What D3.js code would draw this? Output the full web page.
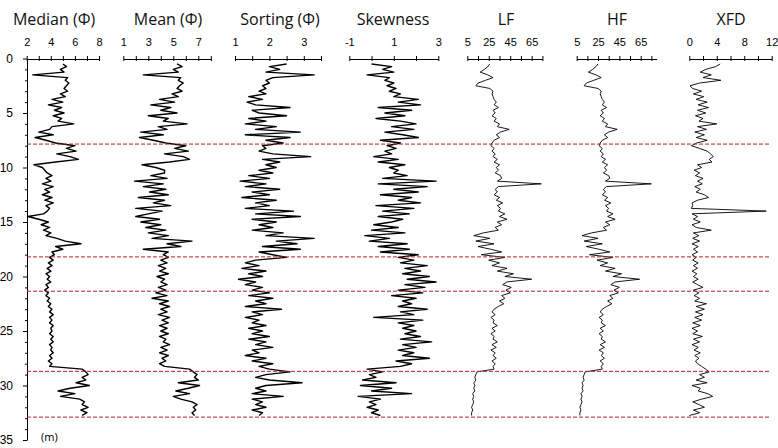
<!DOCTYPE html>
<html>
<head>
<meta charset="utf-8">
<script src="https://cdn.jsdelivr.net/npm/d3@7"></script>
<style>
body { margin: 0; background: #fff; }
</style>
</head>
<body>
<script>
var width = 778;
var height = 448;

// depth of each sample (m)
var depth = [
  0.5, 0.75, 1, 1.25, 1.5, 1.75, 2, 2.25, 2.5, 2.75,
  3, 3.25, 3.5, 3.75, 4, 4.25, 4.5, 4.75, 5, 5.25,
  5.5, 5.75, 6, 6.25, 6.5, 6.75, 7, 7.25, 7.5, 7.75,
  8, 8.25, 8.5, 8.75, 9, 9.25, 9.5, 9.75, 10, 10.25,
  10.5, 10.75, 11, 11.25, 11.5, 11.75, 12, 12.25, 12.5, 12.75,
  13, 13.25, 13.5, 13.75, 14, 14.25, 14.5, 14.75, 15, 15.25,
  15.5, 15.75, 16, 16.25, 16.5, 16.75, 17, 17.25, 17.5, 17.75,
  18, 18.25, 18.5, 18.75, 19, 19.25, 19.5, 19.75, 20, 20.25,
  20.5, 20.75, 21, 21.25, 21.5, 21.75, 22, 22.25, 22.5, 22.75,
  23, 23.25, 23.5, 23.75, 24, 24.25, 24.5, 24.75, 25, 25.25,
  25.5, 25.75, 26, 26.25, 26.5, 26.75, 27, 27.25, 27.5, 27.75,
  28, 28.25, 28.5, 28.75, 29, 29.25, 29.5, 29.75, 30, 30.25,
  30.5, 30.75, 31, 31.25, 31.5, 31.75, 32, 32.25, 32.5, 32.75
];

var median = [
  5.0, 5.3, 4.8, 5.1, 2.5, 5.4, 5.2, 5.5, 5.3, 5.1,
  5.4, 4.8, 5.2, 4.1, 5.0, 3.8, 4.9, 4.3, 5.1, 4.2,
  4.9, 4.6, 5.9, 4.1, 3.9, 3.0, 4.2, 2.7, 3.6, 4.4,
  6.0, 5.3, 6.1, 4.5, 5.6, 6.3, 4.4, 2.6, 3.3, 3.5,
  3.7, 4.1, 3.6, 4.0, 3.3, 4.2, 3.5, 3.9, 3.3, 4.1,
  3.5, 4.2, 3.6, 3.9, 3.7, 3.4, 2.1, 3.0, 3.8, 3.2,
  3.9, 3.4, 4.0, 3.6, 4.5, 5.2, 6.5, 4.4, 5.0, 4.1,
  4.3, 3.9, 4.2, 3.8, 4.1, 3.7, 4.0, 3.6, 3.9, 3.7,
  4.0, 3.6, 3.8, 3.5, 3.8, 3.6, 3.9, 3.7, 4.0, 3.8,
  4.1, 3.9, 4.2, 3.9, 4.1, 3.9, 4.2, 4.0, 4.1, 3.9,
  4.2, 4.0, 4.2, 3.9, 4.1, 4.0, 4.2, 3.9, 4.1, 3.8,
  4.1, 3.9, 6.6, 6.9, 7.1, 6.6, 6.9, 6.1, 7.2, 5.6,
  4.6, 6.0, 4.8, 6.4, 6.8, 6.6, 7.1, 6.5, 7.0, 6.6
];

var mean = [
  5.3, 5.7, 5.0, 5.4, 2.6, 5.6, 5.4, 5.8, 5.5, 5.3,
  5.7, 4.9, 5.4, 3.9, 5.1, 3.2, 4.8, 4.0, 5.3, 3.0,
  4.6, 4.2, 6.1, 3.8, 4.5, 2.4, 4.2, 2.3, 3.4, 4.4,
  6.0, 5.1, 6.2, 4.3, 5.8, 6.3, 4.7, 2.5, 3.6, 4.3,
  4.3, 3.2, 4.5, 1.9, 4.2, 2.6, 4.4, 3.1, 4.6, 2.2,
  4.3, 3.4, 4.8, 2.0, 4.1, 3.0, 2.0, 3.9, 2.4, 4.0,
  2.8, 4.4, 3.0, 4.6, 3.3, 6.5, 4.5, 5.6, 2.6, 4.6,
  4.2, 4.6, 4.0, 4.5, 3.8, 4.4, 3.9, 4.6, 3.7, 4.3,
  4.0, 4.5, 3.8, 4.4, 3.6, 4.5, 3.3, 4.6, 3.9, 4.7,
  4.0, 4.5, 3.8, 4.7, 4.1, 4.6, 3.9, 4.5, 4.0, 4.6,
  3.9, 4.4, 4.2, 4.7, 4.0, 4.5, 3.9, 4.6, 4.1, 4.4,
  3.9, 4.3, 6.3, 6.6, 6.9, 6.7, 7.0, 5.4, 7.1, 6.2,
  5.2, 6.3, 5.0, 5.6, 6.5, 6.9, 6.6, 6.8, 6.5, 6.7
];

var sorting = [
  2.5, 2.0, 2.3, 1.9, 3.3, 2.1, 1.9, 2.0, 1.8, 1.9,
  1.7, 1.9, 1.4, 1.8, 1.35, 1.6, 2.6, 1.5, 1.7, 2.5,
  1.4, 1.9, 1.3, 2.2, 1.6, 2.9, 1.3, 2.6, 1.9, 2.4,
  1.8, 1.9, 1.7, 2.1, 3.2, 1.8, 2.3, 1.9, 2.2, 1.7,
  2.1, 1.4, 2.0, 1.15, 1.9, 1.3, 2.3, 1.5, 2.0, 1.2,
  2.2, 1.6, 2.0, 1.3, 2.7, 1.6, 2.9, 1.5, 2.2, 1.7,
  2.1, 1.5, 2.4, 1.9, 3.3, 2.2, 2.8, 1.8, 2.9, 1.7,
  2.1, 2.5, 1.6, 1.3, 1.7, 1.2, 1.9, 1.4, 1.8, 1.1,
  1.6, 1.3, 1.8, 1.5, 2.0, 1.4, 2.1, 1.6, 1.9, 1.3,
  2.35, 1.5, 1.8, 1.3, 1.7, 1.5, 1.9, 1.4, 1.8, 1.5,
  2.0, 1.4, 1.9, 1.6, 2.1, 1.5, 1.7, 1.3, 1.9, 1.5,
  2.1, 1.7, 2.0, 2.6, 1.9, 1.6, 2.0, 2.95, 1.9, 1.6,
  1.9, 1.5, 2.4, 1.5, 1.8, 1.6, 1.9, 1.5, 1.8, 1.7
];

var skewness = [
  0.0, 0.9, 0.5, 1.0, -0.2, 0.8, 0.6, 1.0, 0.7, 1.1,
  0.8, 1.3, 1.0, 2.1, 1.2, 2.2, 0.3, 1.8, 0.6, 1.5,
  0.2, 1.3, 2.0, 0.9, 1.9, 0.6, 1.4, 2.1, 0.4, 1.3,
  0.7, 1.1, 0.6, 0.9, 0.1, 1.2, 0.3, 1.5, 0.8, 1.2,
  1.0, 1.6, 0.5, 2.9, 0.3, 2.5, 1.0, 2.1, 0.4, 1.8,
  1.2, 2.2, 0.2, 1.9, 0.5, 1.7, 0.3, 1.4, 0.9, 0.1,
  1.2, 0.0, 1.5, -0.3, 0.8, -0.1, 1.6, 0.3, 1.7, 0.4,
  2.1, 1.2, 1.9, 1.3, 2.5, 1.5, 2.2, 1.4, 2.6, 1.6,
  2.9, 1.5, 2.4, 1.2, 2.3, 0.9, 2.0, 1.4, 1.8, 1.2,
  2.5, 1.3, 1.9, 0.1, 2.3, 1.2, 1.9, 1.4, 2.0, 1.5,
  2.2, 1.3, 2.7, 1.4, 2.0, 1.2, 1.9, 1.4, 2.6, 1.1,
  1.8, 1.3, -0.2, 0.5, -0.1, 0.2, -0.4, 1.1, -0.5, 0.9,
  0.0, 1.8, -0.6, 0.4, -0.1, 0.2, -0.2, 0.3, 0.0, 0.4
];

var lf = [
  26, 24, 21, 17, 24, 29, 22, 15, 13, 26,
  29, 28, 29, 30, 32, 30, 34, 29, 31, 28,
  32, 30, 35, 33, 44, 36, 32, 35, 30, 28,
  27, 30, 28, 31, 29, 33, 30, 35, 32, 34,
  31, 36, 37, 33, 74, 34, 31, 33, 30, 35,
  32, 38, 33, 36, 34, 40, 35, 42, 33, 37,
  31, 34, 20, 11, 26, 13, 30, 15, 27, 37,
  18, 40, 25, 35, 28, 42, 33, 48, 40, 65,
  42, 38, 46, 41, 45, 37, 40, 35, 39, 34,
  30, 28, 31, 27, 30, 29, 33, 28, 31, 27,
  30, 29, 33, 28, 32, 27, 31, 29, 32, 28,
  31, 29, 30, 14, 13, 12, 13, 11, 12, 11,
  12, 10, 11, 10, 11, 10, 9, 10, 9, 9
];

var hf = [
  25, 23, 20, 16, 23, 28, 21, 14, 12, 25,
  28, 27, 28, 29, 31, 29, 33, 28, 30, 27,
  31, 29, 34, 32, 43, 35, 31, 34, 29, 27,
  26, 29, 27, 30, 28, 32, 29, 34, 31, 33,
  30, 35, 36, 32, 75, 33, 30, 32, 29, 34,
  31, 37, 32, 35, 33, 39, 34, 41, 32, 36,
  30, 33, 19, 10, 25, 12, 29, 14, 26, 36,
  17, 39, 24, 34, 27, 41, 32, 47, 39, 64,
  41, 37, 45, 40, 44, 36, 39, 34, 38, 33,
  29, 27, 30, 26, 29, 28, 32, 27, 30, 26,
  29, 28, 32, 27, 31, 26, 30, 28, 31, 27,
  30, 28, 29, 13, 12, 11, 12, 10, 11, 10,
  11, 9, 10, 9, 10, 9, 8, 9, 8, 8
];

var xfd = [
  4.5, 3.8, 2.4, 1.6, 3.2, 2.0, 4.6, 1.5, 0.1, 0.5,
  1.8, 0.6, 2.1, 1.0, 2.6, 1.3, 2.8, 1.2, 2.4, 0.9,
  2.0, 1.4, 4.0, 1.2, 2.5, 0.8, 2.2, 1.0, 2.6, 1.1,
  0.3, 1.5, 2.6, 3.1, 3.5, 2.9, 3.3, 1.2, 1.8, 0.7,
  1.5, 0.9, 2.0, 1.2, 1.9, 0.8, 1.6, 1.0, 2.2, 2.8,
  1.2, 0.4, 0.5, 0.3, 11.2, 0.4, 1.2, 0.6, 1.6, 0.4,
  1.0, 3.2, 0.6, 1.4, 0.5, 1.5, 0.4, 1.3, 0.6, 1.2,
  0.4, 1.0, 0.5, 1.3, 0.6, 1.2, 0.4, 1.1, 0.6, 1.3,
  0.5, 1.2, 2.0, 0.6, 1.4, 0.7, 1.5, 0.8, 2.5, 1.0,
  2.2, 0.9, 2.0, 0.8, 1.8, 0.5, 1.6, 0.4, 1.2, 0.5,
  1.9, 0.6, 1.5, 0.4, 1.3, 0.7, 1.6, 0.8, 1.4, 0.9,
  1.2, 1.8, 2.4, 2.9, 1.5, 2.2, 1.0, 2.6, 0.4, 1.6,
  1.3, 2.7, 3.4, 1.8, 0.5, 1.4, 2.2, 0.6, 1.5, 0.0
];

// unit boundaries (m)
var boundaries = [7.85, 18.2, 21.35, 28.7, 32.9];

// axis ticks and labels
var depthTicks = [0, 1, 2, 3, 4, 5, 6, 7, 8, 9, 10, 11, 12, 13, 14, 15, 16, 17, 18,
  19, 20, 21, 22, 23, 24, 25, 26, 27, 28, 29, 30, 31, 32, 33, 34, 35];
var depthLabels = [0, 5, 10, 15, 20, 25, 30, 35];
var medianTicks = [2, 3, 4, 5, 6, 7, 8];
var medianLabels = [2, 4, 6, 8];
var meanTicks = [1, 2, 3, 4, 5, 6, 7, 8];
var meanLabels = [1, 3, 5, 7];
var sortingTicks = [1, 1.5, 2, 2.5, 3, 3.5];
var sortingLabels = [1, 2, 3];
var skewTicks = [-1, 0, 1, 2, 3];
var skewLabels = [-1, 1, 3];
var lfTicks = [5, 15, 25, 35, 45, 55, 65, 75];
var lfLabels = [5, 25, 45, 65];
var hfTicks = [5, 15, 25, 35, 45, 55, 65, 75];
var hfLabels = [5, 25, 45, 65];
var xfdTicks = [0, 2, 4, 6, 8, 10, 12];
var xfdLabels = [0, 4, 8, 12];

var panels = [
  {title: "Median (Φ)", titleX: 54, values: median, domain: [2, 8], range: [26.7, 99], ticks: medianTicks, labels: medianLabels, lw: 1.4},
  {title: "Mean (Φ)", titleX: 168, values: mean, domain: [1, 8], range: [123.3, 210.8], ticks: meanTicks, labels: meanLabels, lw: 1.4},
  {title: "Sorting (Φ)", titleX: 280, values: sorting, domain: [1, 3.5], range: [235, 321], ticks: sortingTicks, labels: sortingLabels, lw: 1.4},
  {title: "Skewness", titleX: 393, values: skewness, domain: [-1, 3], range: [349.3, 438.3], ticks: skewTicks, labels: skewLabels, lw: 1.4},
  {title: "LF", titleX: 506, values: lf, domain: [5, 75], range: [467.3, 542.4], ticks: lfTicks, labels: lfLabels, lw: 0.9},
  {title: "HF", titleX: 617, values: hf, domain: [5, 80], range: [576.7, 656.7], ticks: hfTicks, labels: hfLabels, lw: 0.9},
  {title: "XFD", titleX: 731, values: xfd, domain: [0, 12], range: [689.3, 771.7], ticks: xfdTicks, labels: xfdLabels, lw: 0.9}
];

var font = "'Open Sans', 'Noto Sans', sans-serif";

var svgContainer = d3.select("body").append("svg")
                                    .attr("width", width)
                                    .attr("height", height)
                                    .style("font-family", font);

var y = d3.scaleLinear().domain([0, 35]).range([58.5, 440]);

// depth axis
var yAxis = svgContainer.append("g")
  .attr("transform", "translate(27,0)")
  .attr("font-family", font)
  .call(d3.axisLeft(y)
    .tickValues(depthTicks)
    .tickSizeInner(2)
    .tickSizeOuter(0)
    .tickPadding(12)
    .tickFormat(function(v) { return depthLabels.indexOf(v) >= 0 ? v : ""; }));
yAxis.selectAll(".tick line")
  .attr("x2", function(v) { return depthLabels.indexOf(v) >= 0 ? -4 : -2; });
yAxis.selectAll("text").attr("font-size", 12).attr("fill", "#000");

svgContainer.append("text")
  .attr("x", 41)
  .attr("y", 441)
  .attr("font-size", 11)
  .text("(m)");

// one panel per proxy
panels.forEach(function(p) {
  var x = d3.scaleLinear().domain(p.domain).range(p.range);

  svgContainer.append("text")
    .attr("x", p.titleX)
    .attr("y", 25)
    .attr("text-anchor", "middle")
    .attr("font-size", 16)
    .attr("fill", "#111")
    .text(p.title);

  var g = svgContainer.append("g")
    .attr("transform", "translate(0,59)")
    .attr("font-family", font)
    .call(d3.axisTop(x)
      .tickValues(p.ticks)
      .tickSizeInner(3)
      .tickSizeOuter(0)
      .tickPadding(10)
      .tickFormat(function(v) { return p.labels.indexOf(v) >= 0 ? v : ""; }));
  g.selectAll(".tick line").attr("y1", 2).attr("y2", -3);
  g.selectAll("text").attr("font-size", 11).attr("fill", "#000");

  var line = d3.line()
    .x(function(i) { return x(p.values[i]); })
    .y(function(i) { return y(depth[i]); });

  svgContainer.append("path")
    .datum(d3.range(depth.length))
    .attr("d", line)
    .attr("fill", "none")
    .attr("stroke", "#000")
    .attr("stroke-width", p.lw)
    .attr("stroke-linejoin", "round");
});

// boundaries
svgContainer.selectAll(".bound")
  .data(boundaries)
  .enter().append("line")
  .attr("class", "bound")
  .attr("x1", 27)
  .attr("x2", 770)
  .attr("y1", function(d) { return y(d); })
  .attr("y2", function(d) { return y(d); })
  .attr("stroke", "#b3262b")
  .attr("stroke-width", 1)
  .attr("stroke-dasharray", "4,2");
</script>
</body>
</html>
